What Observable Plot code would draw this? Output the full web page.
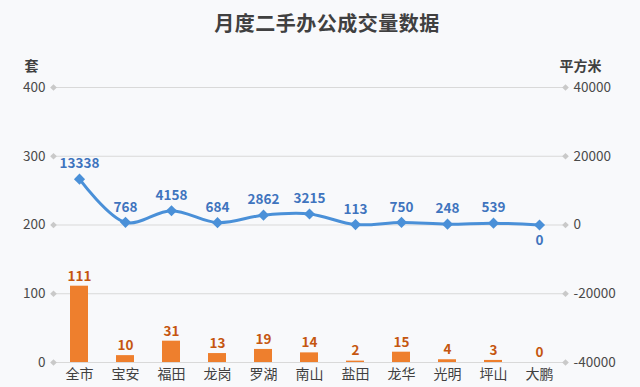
<!DOCTYPE html>
<html><head><meta charset="utf-8">
<script src="https://cdn.jsdelivr.net/npm/d3@7"></script>
<script src="https://cdn.jsdelivr.net/npm/@observablehq/plot@0.6"></script>
<style>
html,body{margin:0;padding:0;background:#F8F9FB;}
#wrap{width:640px;height:387px;overflow:hidden;font-family:"Noto Sans CJK SC","Noto Sans",sans-serif;}
#title{height:45px;line-height:46px;text-align:center;font-size:20px;font-weight:bold;color:#404040;letter-spacing:0.5px;padding-left:14px;}
</style></head>
<body><div id="wrap"><div id="title">月度二手办公成交量数据</div><div id="chart"></div></div>
<script>
const categories = ["全市","宝安","福田","龙岗","罗湖","南山","盐田","龙华","光明","坪山","大鹏"];
const units = [111,10,31,13,19,14,2,15,4,3,0];
const area = [13338,768,4158,684,2862,3215,113,750,248,539,0];
const leftTicks = [0,100,200,300,400];
const rightTicks = [-40000,-20000,0,20000,40000];
const leftUnit = "套";
const rightUnit = "平方米";

const rows = categories.map((c,i)=>({cat:c, units:units[i], area:area[i]}));
const rMin = rightTicks[0], rMax = rightTicks[rightTicks.length-1];
const lMin = leftTicks[0], lMax = leftTicks[leftTicks.length-1];
const toLeft = v => lMin + (v - rMin) / (rMax - rMin) * (lMax - lMin);

const font = '"Noto Sans CJK SC","Noto Sans",sans-serif';
const chart = Plot.plot({
  width: 640, height: 342,
  marginTop: 42, marginBottom: 25, marginLeft: 53, marginRight: 75,
  style: {background: "transparent", fontFamily: font, fontSize: "13px", color: "#595959"},
  x: {domain: categories, paddingInner: 0.6, paddingOuter: 0.3, label: null},
  y: {domain: [lMin, lMax], label: null},
  marks: [
    Plot.gridY(leftTicks, {stroke: "#D9D9D9", strokeOpacity: 1, strokeWidth: 1}),
    Plot.dot(leftTicks, {y: d=>d, frameAnchor: "left", symbol: "diamond2", r: 3, fill: "#C9C9C9"}),
    Plot.dot(leftTicks, {y: d=>d, frameAnchor: "right", symbol: "diamond2", r: 3, fill: "#C9C9C9"}),
    Plot.axisY(leftTicks, {anchor: "left", tickSize: 0, tickPadding: 8, label: null, fontSize: 13.5, fill: "#4A4A4A"}),
    Plot.axisY(leftTicks, {anchor: "right", tickSize: 0, tickPadding: 8, label: null, fontSize: 13.5, fill: "#4A4A4A",
      tickFormat: (d,i) => String(rightTicks[i])}),
    Plot.axisX({tickSize: 0, tickPadding: 7, label: null, fontSize: 14, fill: "#404040"}),
    Plot.text([leftUnit], {frameAnchor: "top-left", dx: -29, dy: -26, fontSize: 14, fontWeight: "bold", fill: "#404040", text: d=>d}),
    Plot.text([rightUnit], {frameAnchor: "top-right", dx: 36, dy: -26, fontSize: 14, fontWeight: "bold", fill: "#404040", text: d=>d}),
    Plot.barY(rows, {x: "cat", y: "units", fill: "#EE7F2D"}),
    Plot.text(rows, {x: "cat", y: "units", text: d=>String(d.units), dy: -10, fill: "#C5560F", fontWeight: "bold", fontSize: 13.5, letterSpacing: "1px"}),
    Plot.line(rows, {x: "cat", y: d=>toLeft(d.area), stroke: "#4A90D8", strokeWidth: 3, curve: "catmull-rom"}),
    Plot.dot(rows, {x: "cat", y: d=>toLeft(d.area), symbol: "diamond2", r: 5, fill: "#4A90D8"}),
    Plot.text(rows.filter(d=>d.area!==0), {x: "cat", y: d=>toLeft(d.area), text: d=>String(d.area), dy: -15, fill: "#3F74BE", fontWeight: "bold", fontSize: 13.5, letterSpacing: "1px"}),
    Plot.text(rows.filter(d=>d.area===0), {x: "cat", y: d=>toLeft(d.area), text: d=>String(d.area), dy: 16, fill: "#3F74BE", fontWeight: "bold", fontSize: 13.5})
  ]
});
document.getElementById("chart").appendChild(chart);
</script></body></html>
